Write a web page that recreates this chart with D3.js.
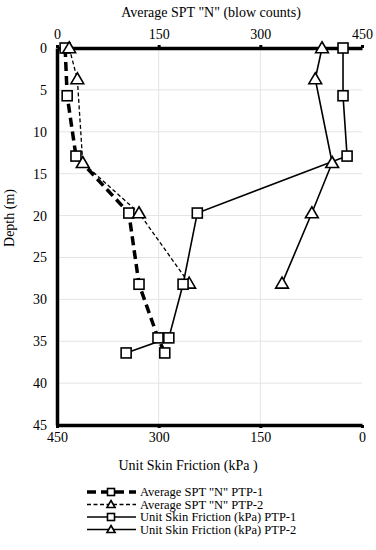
<!DOCTYPE html>
<html>
<head>
<meta charset="utf-8">
<script src="https://cdn.jsdelivr.net/npm/d3@7"></script>
<style>
  body { margin: 0; background: #fff; }
  .grid line { stroke: #e4e4e4; stroke-width: 1; }
  .axis path { stroke: #000; stroke-width: 3.5; }
  .axis line { stroke: #000; stroke-width: 3; }
</style>
</head>
<body>
<div id="chartDiv"></div>
<script>
// depths (m)
const depthPTP1 = [0, 5.7, 12.9, 19.7, 28.2, 34.6, 36.4];
const depthPTP2 = [0, 3.7, 13.7, 19.7, 28.1];
// Average SPT "N" (top axis)
const sptPTP1 = [12, 15, 28, 106, 121, 149, 159];
const sptPTP2 = [18, 30, 38, 121, 195];
// Unit skin friction kPa (bottom axis, reversed)
const usfPTP1 = [28, 28, 22, 243, 264, 285, 348];
const usfPTP2 = [59, 69, 44, 74, 118];

const topTicks = [0, 150, 300, 450];
const bottomTicks = [450, 300, 150, 0];
const depthTicks = [0, 5, 10, 15, 20, 25, 30, 35, 40, 45];

const legendNames = [
  'Average SPT "N" PTP-1',
  'Average SPT "N" PTP-2',
  'Unit Skin Friction (kPa) PTP-1',
  'Unit Skin Friction (kPa) PTP-2'
];

const FONT = '"Liberation Serif", "Times New Roman", Times, serif';
const width = 376, height = 550;
const margin = {top: 48, right: 14, bottom: 125, left: 57};

let svg = d3.select('#chartDiv').append('svg')
  .attr('width', width)
  .attr('height', height)
  .attr('font-family', FONT);

let xTop = d3.scaleLinear().domain([0, 450]).range([margin.left, width - margin.right]);
let xBot = d3.scaleLinear().domain([450, 0]).range([margin.left, width - margin.right]);
let y = d3.scaleLinear().domain([0, 45]).range([margin.top, height - margin.bottom]);

// gridlines
let grid = svg.append('g').attr('class', 'grid');
grid.selectAll('line.h')
  .data(depthTicks.filter(d => d > 0 && d < 45))
  .enter().append('line')
  .attr('x1', xTop(0)).attr('x2', xTop(450))
  .attr('y1', d => y(d)).attr('y2', d => y(d));
grid.selectAll('line.v')
  .data([150, 300])
  .enter().append('line')
  .attr('x1', d => xTop(d)).attr('x2', d => xTop(d))
  .attr('y1', y(0)).attr('y2', y(45));

// axes
function styleAxis(g) {
  g.attr('font-family', FONT).attr('font-size', 14);
  g.selectAll('text').attr('fill', '#000');
}

svg.append('g')
  .attr('class', 'axis')
  .attr('transform', `translate(0, ${y(0)})`)
  .call(d3.axisTop(xTop).tickValues(topTicks).tickSizeInner(3).tickSizeOuter(0).tickPadding(6))
  .call(styleAxis);

svg.append('g')
  .attr('class', 'axis')
  .attr('transform', `translate(0, ${y(45)})`)
  .call(d3.axisBottom(xBot).tickValues(bottomTicks).tickSizeInner(3).tickSizeOuter(0).tickPadding(4))
  .call(styleAxis);

svg.append('g')
  .attr('class', 'axis')
  .attr('transform', `translate(${margin.left}, 0)`)
  .call(d3.axisLeft(y).tickValues(depthTicks).tickSize(0).tickPadding(10))
  .call(styleAxis);

// axis titles
svg.append('text')
  .attr('x', 211).attr('y', 17)
  .attr('text-anchor', 'middle')
  .attr('font-size', 14)
  .text('Average SPT "N" (blow counts)');

svg.append('text')
  .attr('x', 188).attr('y', 470)
  .attr('text-anchor', 'middle')
  .attr('font-size', 14)
  .text('Unit Skin Friction (kPa )');

svg.append('text')
  .attr('transform', 'translate(14, 218) rotate(-90)')
  .attr('text-anchor', 'middle')
  .attr('font-size', 14)
  .text('Depth (m)');

// series definitions
const series = [
  {name: legendNames[0], pts: depthPTP1.map((d, i) => [xTop(sptPTP1[i]), y(d)]), width: 3.5, dash: '9,5', marker: 'square'},
  {name: legendNames[1], pts: depthPTP2.map((d, i) => [xTop(sptPTP2[i]), y(d)]), width: 1.3, dash: '4,2.5', marker: 'triangle'},
  {name: legendNames[2], pts: depthPTP1.map((d, i) => [xBot(usfPTP1[i]), y(d)]), width: 1.6, dash: null, marker: 'square'},
  {name: legendNames[3], pts: depthPTP2.map((d, i) => [xBot(usfPTP2[i]), y(d)]), width: 1.6, dash: null, marker: 'triangle'}
];

let line = d3.line();

function drawMarker(g, type, size) {
  if (type === 'square') {
    g.append('rect')
      .attr('x', -size / 2).attr('y', -size / 2)
      .attr('width', size).attr('height', size)
      .attr('fill', '#fff').attr('stroke', '#000').attr('stroke-width', 1.6);
  } else {
    let h = size * 0.95;
    g.append('path')
      .attr('d', `M0,${-h * 0.6}L${size * 0.58},${h * 0.45}L${-size * 0.58},${h * 0.45}Z`)
      .attr('fill', '#fff').attr('stroke', '#000').attr('stroke-width', 1.6);
  }
}

series.forEach(s => {
  svg.append('path')
    .attr('d', line(s.pts))
    .attr('fill', 'none')
    .attr('stroke', '#000')
    .attr('stroke-width', s.width)
    .attr('stroke-dasharray', s.dash);
});

series.forEach(s => {
  s.pts.forEach(p => {
    let g = svg.append('g').attr('transform', `translate(${p[0]}, ${p[1]})`);
    drawMarker(g, s.marker, s.marker === 'square' ? 10 : 11);
  });
});

// legend
let legend = svg.append('g');
series.forEach((s, i) => {
  let ly = 492 + i * 12.5;
  legend.append('line')
    .attr('x1', 87).attr('x2', 136)
    .attr('y1', ly).attr('y2', ly)
    .attr('stroke', '#000')
    .attr('stroke-width', s.width)
    .attr('stroke-dasharray', s.dash);
  let g = legend.append('g').attr('transform', `translate(111, ${ly})`);
  drawMarker(g, s.marker, 7);
  legend.append('text')
    .attr('x', 140).attr('y', ly + 4)
    .attr('font-size', 12.5)
    .text(s.name);
});
</script>
</body>
</html>
